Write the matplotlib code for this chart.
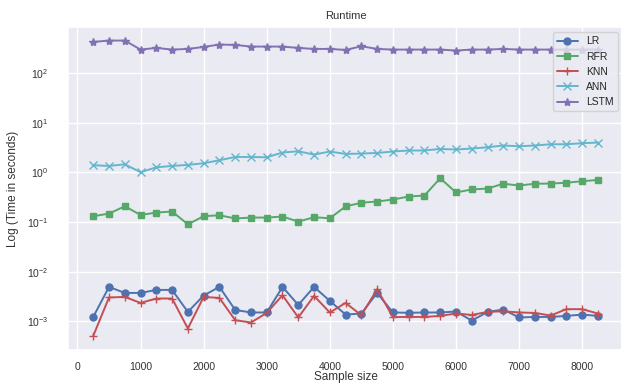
import matplotlib
matplotlib.use('Agg')
import matplotlib.pyplot as plt
from matplotlib.ticker import NullFormatter
import seaborn as sns

sns.set_theme(style='darkgrid')
sns.set_color_codes('deep')
plt.rcParams['font.family'] = ['Liberation Sans', 'DejaVu Sans']
plt.rcParams['mathtext.default'] = 'regular'

# Sample sizes
sizes = list(range(250, 8251, 250))

# Runtimes (seconds)
lr = [0.00122, 0.00492, 0.00372, 0.00372, 0.00428, 0.00428, 0.00154, 0.00330,
      0.00492, 0.00169, 0.00150, 0.00150, 0.00492, 0.00213, 0.00492, 0.00257,
      0.00136, 0.00143, 0.00372, 0.00150, 0.00148, 0.00150, 0.00150, 0.00157,
      0.00103, 0.00154, 0.00172, 0.00119, 0.00122, 0.00122, 0.00128, 0.00136,
      0.00128]
rfr = [0.131, 0.148, 0.208, 0.139, 0.155, 0.163, 0.090, 0.131, 0.137, 0.118,
       0.123, 0.123, 0.129, 0.102, 0.125, 0.119, 0.206, 0.245, 0.259, 0.284,
       0.327, 0.342, 0.764, 0.394, 0.454, 0.473, 0.592, 0.544, 0.592, 0.597,
       0.619, 0.665, 0.706]
knn = [0.000506, 0.00301, 0.00309, 0.00234, 0.00287, 0.00287, 0.000713, 0.00309,
       0.00295, 0.00105, 0.000942, 0.00147, 0.00334, 0.00119, 0.00324, 0.00150,
       0.00234, 0.00132, 0.00442, 0.00121, 0.00122, 0.00122, 0.00128, 0.00143,
       0.00134, 0.00154, 0.00159, 0.00150, 0.00147, 0.00130, 0.00175, 0.00175,
       0.00143]
ann = [1.40, 1.35, 1.46, 1.01, 1.27, 1.35, 1.42, 1.53, 1.76, 2.05, 2.05, 2.02,
       2.52, 2.67, 2.29, 2.64, 2.36, 2.40, 2.47, 2.64, 2.77, 2.77, 2.98, 2.90,
       3.03, 3.22, 3.49, 3.37, 3.49, 3.70, 3.70, 3.88, 4.01]
lstm = [428, 456, 456, 300, 324, 300, 309, 339, 379, 372, 345, 345, 345, 324,
        309, 309, 295, 350, 309, 300, 300, 300, 300, 287, 300, 300, 309, 300,
        300, 300, 300, 300, 300]

fig = plt.figure(figsize=(6.21, 3.83), dpi=100)
ax = fig.add_axes([0.1095, 0.0862, 0.894, 0.843])

ax.plot(sizes, lr, 'b-o', label='LR', markersize=5, linewidth=1.4)
ax.plot(sizes, rfr, 'g-s', label='RFR', markersize=5, linewidth=1.4)
ax.plot(sizes, knn, 'r-+', label='KNN', markersize=5.5, linewidth=1.4)
ax.plot(sizes, ann, 'c-x', label='ANN', markersize=5.5, linewidth=1.4)
ax.plot(sizes, lstm, 'm-*', label='LSTM', markersize=6, linewidth=1.4)

ax.set_yscale('log')
ax.yaxis.set_minor_formatter(NullFormatter())
ax.set_xlim(-150, 8650)
ax.set_ylim(10 ** -3.58, 10 ** 2.93)
ax.set_xticks(range(0, 8001, 1000))
ax.tick_params(axis='x', labelsize=7.5, colors='#333333', pad=3)
ax.tick_params(axis='y', labelsize=7.5, colors='#333333', pad=8)

ax.set_title('Runtime', fontsize=8, color='#333333')
ax.set_xlabel('Sample size', fontsize=8.5, color='#333333', labelpad=-1)
ax.set_ylabel('Log (Time in seconds)', fontsize=8.5, color='#333333',
              labelpad=6)
ax.legend(loc='upper right', fontsize=7.5, frameon=True, framealpha=0.8,
          edgecolor='#cccccc')

fig.savefig('out.png', dpi=100)
